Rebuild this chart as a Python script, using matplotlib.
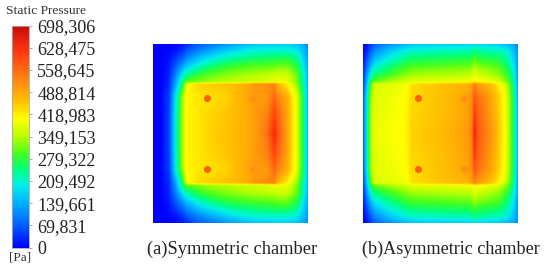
import numpy as np
import matplotlib
matplotlib.use("Agg")
import matplotlib.pyplot as plt
from matplotlib.colors import LinearSegmentedColormap, Normalize

plt.rcParams['font.family'] = ['Liberation Serif', 'DejaVu Serif']

W = 550
H = 272

tick_values = [0, 69831, 139661, 209492, 279322, 349153, 418983, 488814, 558645, 628475, 698306]

# grid lines of the tables below, measured on a 3x enlargement of each panel
sym_x = [38, 60, 85, 105, 125, 133, 140, 175, 210, 260, 320, 345, 380, 402, 412, 440, 470, 490, 502]
asym_x = [40, 50, 60, 68, 75, 120, 170, 185, 230, 290, 350, 366, 375, 385, 420, 450, 475, 495, 505]
half_y = [42, 60, 85, 110, 135, 155, 162, 200, 250, 311]

# pressure, kPa, top edge down to mid line (field is mirrored about it)
sym_top = [
    [0, 0, 0, 5, 15, 25, 35, 65, 90, 120, 150, 160, 165, 165, 170, 170, 160, 130, 110],
    [0, 0, 5, 15, 35, 50, 60, 100, 130, 165, 195, 200, 205, 205, 205, 205, 190, 150, 120],
    [0, 0, 12, 40, 75, 95, 110, 160, 190, 225, 250, 255, 260, 265, 270, 270, 240, 170, 130],
    [0, 0, 20, 70, 130, 155, 170, 220, 255, 285, 300, 305, 310, 315, 320, 320, 280, 190, 140],
    [0, 0, 25, 100, 190, 225, 240, 285, 310, 330, 345, 350, 355, 365, 370, 370, 310, 210, 150],
    [0, 0, 30, 125, 240, 290, 305, 325, 340, 350, 365, 370, 380, 390, 395, 385, 320, 215, 150],
    [0, 0, 30, 130, 250, 330, 400, 440, 450, 460, 480, 510, 520, 530, 470, 420, 330, 220, 150],
    [0, 0, 45, 185, 330, 385, 410, 425, 430, 445, 490, 500, 505, 560, 530, 480, 375, 245, 150],
    [0, 0, 50, 195, 340, 390, 415, 425, 440, 455, 480, 505, 530, 600, 570, 490, 380, 250, 150],
    [0, 0, 50, 200, 340, 390, 415, 425, 445, 460, 480, 500, 550, 640, 590, 495, 380, 250, 150],
]
asym_top = [
    [0, 12, 35, 55, 70, 115, 150, 160, 165, 170, 170, 175, 185, 175, 170, 165, 150, 125, 105],
    [3, 25, 55, 85, 105, 160, 195, 205, 210, 215, 220, 225, 240, 230, 220, 215, 195, 150, 115],
    [15, 50, 95, 130, 150, 205, 245, 255, 260, 265, 270, 275, 295, 280, 270, 260, 225, 165, 120],
    [25, 80, 140, 180, 200, 250, 290, 300, 305, 310, 315, 320, 345, 330, 315, 300, 250, 185, 125],
    [35, 115, 190, 235, 255, 295, 330, 340, 345, 350, 355, 360, 385, 370, 350, 330, 285, 200, 130],
    [45, 140, 240, 290, 310, 345, 370, 380, 385, 390, 395, 400, 420, 410, 395, 370, 310, 215, 130],
    [50, 150, 260, 345, 375, 383, 395, 430, 445, 460, 475, 490, 530, 500, 465, 415, 340, 225, 135],
    [65, 185, 305, 365, 380, 390, 405, 435, 450, 465, 490, 515, 580, 550, 500, 440, 365, 235, 140],
    [70, 195, 315, 370, 385, 395, 410, 440, 450, 465, 495, 520, 620, 570, 510, 445, 370, 240, 140],
    [70, 200, 320, 375, 390, 400, 410, 445, 455, 470, 500, 530, 650, 580, 520, 450, 370, 240, 140],
]

# round pins, image pixels
pin_y = [98.3, 169.3]
sym_pins = [206.7, 253.5]
asym_pins = [417.7, 464]
pin_values = [575000, 515000]

captions = ["(a)Symmetric chamber", "(b)Asymmetric chamber"]

colors = [
    (0.00, "#0000ff"), (0.10, "#0060ff"), (0.20, "#00b0ff"), (0.28, "#00f0e8"),
    (0.35, "#00ff80"), (0.42, "#40ff20"), (0.50, "#b8ff00"), (0.58, "#ffff00"),
    (0.66, "#ffc000"), (0.75, "#ff8a10"), (0.88, "#ff3a10"), (1.00, "#c80a0a"),
]
cmap = LinearSegmentedColormap.from_list("ansys", colors)
norm = Normalize(0, tick_values[-1])


def px_axes(fig, x0, y0, x1, y1):
    return fig.add_axes([x0 / W, 1 - y1 / H, (x1 - x0) / W, (y1 - y0) / H])


def resample(top, xs):
    # tables have uneven grid lines, put them on an even one so imshow can take them
    table = np.array(top + top[::-1], dtype=float) * 1000
    ys = half_y + [622 - y for y in half_y[::-1]]
    fine_x = np.linspace(xs[0], xs[-1], 310)
    fine_y = np.linspace(ys[0], ys[-1], 360)
    rows = np.array([np.interp(fine_x, xs, r) for r in table])
    return np.array([np.interp(fine_y, ys, c) for c in rows.T]).T


def draw_panel(fig, top, xs, x0, x1, pins):
    ax = px_axes(fig, x0, 44, x1, 223)
    im = ax.imshow(resample(top, xs), cmap=cmap, norm=norm, aspect='auto',
                   interpolation='bilinear', extent=[x0, x1, 223, 44])
    for y in pin_y:
        for x, v in zip(pins, pin_values):
            ax.scatter(x, y, s=26, color=cmap(norm(v)), linewidths=0, zorder=3)
    ax.set_xlim(x0, x1)
    ax.set_ylim(223, 44)
    ax.axis('off')
    return im


fig = plt.figure(figsize=(W / 100, H / 100), dpi=100)

im = draw_panel(fig, sym_top, sym_x, 152.5, 307, sym_pins)
draw_panel(fig, asym_top, asym_x, 363, 518, asym_pins)

cax = px_axes(fig, 12, 25.5, 29, 247.5)
cb = fig.colorbar(im, cax=cax)
cb.set_ticks(tick_values)
cb.set_ticklabels(["{:,}".format(v) for v in tick_values])
cb.ax.tick_params(length=2, width=0.6, color='#999999', labelsize=13, pad=4, labelcolor='#222222')
cb.outline.set_edgecolor('#aaaaaa')
cb.outline.set_linewidth(0.6)

fig.text(6 / W, 1 - 11.5 / H, "Static Pressure", fontsize=9.7, color='#333333', va='center', ha='left')
fig.text(20.5 / W, 1 - 258 / H, "[Pa]", fontsize=9.5, color='#333333', va='center', ha='center')
fig.text(232.5 / W, 1 - 249 / H, captions[0], fontsize=13.3, color='#222222', va='center', ha='center')
fig.text(451 / W, 1 - 249 / H, captions[1], fontsize=13.1, color='#222222', va='center', ha='center')

fig.savefig("out.png", dpi=100)
